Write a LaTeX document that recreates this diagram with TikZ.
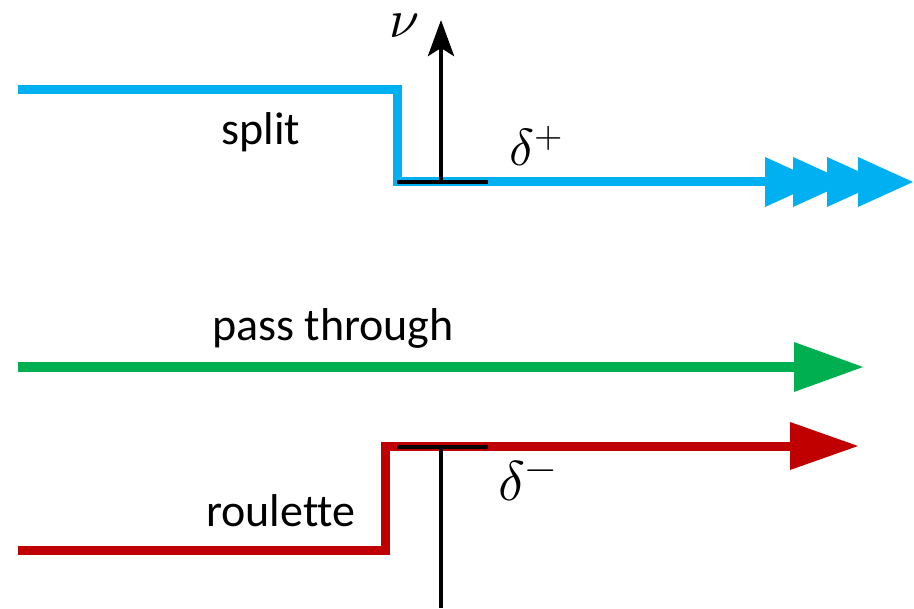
\documentclass[tikz,border=0pt]{standalone}
\usepackage{fontspec}
\usepackage{unicode-math}
\setmainfont{Carlito}[Ligatures=NoCommon]
\setmathfont{Latin Modern Math}
\usetikzlibrary{arrows.meta}
\definecolor{cblue}{RGB}{0,176,240}
\definecolor{cgreen}{RGB}{0,176,80}
\definecolor{cred}{RGB}{192,0,0}
\begin{document}
\begin{tikzpicture}[x=1pt,y=-1pt,
  track/.style={line width=9pt,line join=miter},
  axis/.style={line width=4.5pt,black},
  lbl/.style={inner sep=0pt,anchor=base,font=\fontsize{46}{50}\selectfont},
  mlbl/.style={inner sep=0pt,anchor=base west,font=\fontsize{50}{54}\selectfont}]
\useasboundingbox (0,0) rectangle (914,609);
% blue split
\coordinate (b1) at (18,90);
\coordinate (b2) at (397,90);
\coordinate (b3) at (397,182);
\coordinate (b4) at (770,182);
\draw[track,cblue] (b1) -- (b2) -- (b3) -- (b4);
\foreach \s in {765,793,827,858}{
  \fill[cblue] (\s,157) -- (\s+55,182) -- (\s,207) -- cycle;
}
% green pass through
\coordinate (g1) at (18,367);
\coordinate (g2) at (800,367);
\draw[track,cgreen,line width=10pt] (g1) -- (g2);
\fill[cgreen] (794,342) -- (863,367) -- (794,392) -- cycle;
% red roulette
\coordinate (r1) at (18,551);
\coordinate (r2) at (385,551);
\coordinate (r3) at (385,447);
\coordinate (r4) at (795,447);
\draw[track,cred] (r1) -- (r2) -- (r3) -- (r4);
\fill[cred] (790,422) -- (858,446) -- (790,470) -- cycle;
% axes
\coordinate (a1) at (441,183);
\coordinate (a2) at (441,20);
\draw[axis,-{Stealth[length=36pt,width=26pt,inset=8pt]}] (a1) -- (a2);
\coordinate (a3) at (441,449);
\coordinate (a4) at (441,608);
\draw[axis] (a3) -- (a4);
\coordinate (t1) at (397,182);
\coordinate (t2) at (488,182);
\draw[axis] (t1) -- (t2);
\coordinate (t3) at (397,447);
\coordinate (t4) at (488,447);
\draw[axis] (t3) -- (t4);
% labels
\node[lbl] (split) at (261,145) {split};
\node[lbl] (pass) at (333,341) {pass through};
\node[lbl] (roul) at (281,527) {roulette};
\node[mlbl,font=\fontsize{54}{56}\selectfont] (nu) at (389,38) {$\nu$};
\node[mlbl,font=\fontsize{52}{56}\selectfont] (dp) at (509,166) {$\delta^+$};
\node[mlbl,font=\fontsize{56}{60}\selectfont] (dm) at (498,501) {$\delta^-$};
\end{tikzpicture}
\end{document}
